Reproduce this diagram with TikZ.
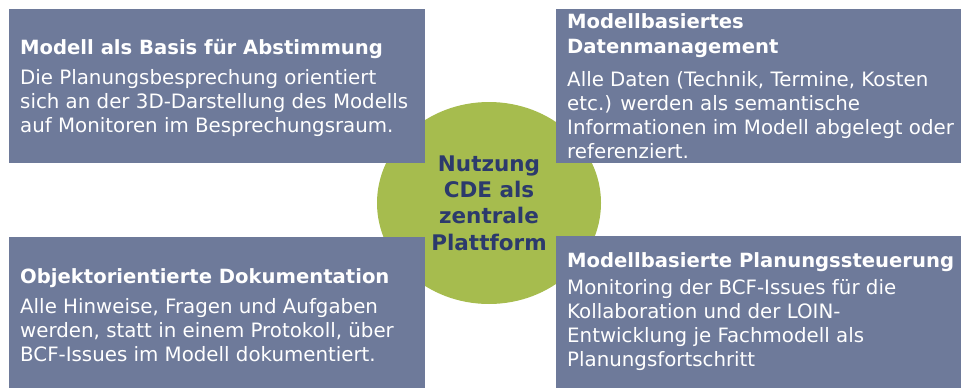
\documentclass[tikz,border=0pt]{standalone}
\usepackage{xcolor}
\usepackage{fontspec}
\setmainfont{DejaVu Sans}
\usepackage{tikz}
\usetikzlibrary{shapes, positioning}
\definecolor{feldblau}{HTML}{6E7A9A}
\definecolor{cdegruen}{HTML}{A6BC4E}
\definecolor{cdenavy}{HTML}{2C3A6C}

\begin{document}
\begin{tikzpicture}[x=1pt, y=-1pt,
    feld/.style={rectangle, fill=feldblau, anchor=north west, inner sep=0pt},
    kopf/.style={anchor=base west, inner sep=0pt, text=white, align=left,
        font=\fontsize{19.6}{25}\selectfont\bfseries},
    inhalt/.style={anchor=base west, inner sep=0pt, text=white, align=left,
        font=\fontsize{19.8}{24}\selectfont}]
    \useasboundingbox (0,0) rectangle (961,388);

    % Mitte
    \node[ellipse, fill=cdegruen, minimum width=224pt, minimum height=202pt,
        inner sep=0pt, text=cdenavy, align=center,
        font=\fontsize{21.5}{26.3}\selectfont\bfseries] (cde) at (489,203)
        {Nutzung\\CDE als\\zentrale\\Plattform};

    % Felder
    \node[feld, minimum width=416pt, minimum height=154pt] (fa) at (9,9) {};
    \node[feld, minimum width=405pt, minimum height=154pt] (fb) at (556,9) {};
    \node[feld, minimum width=416pt, minimum height=151pt] (fc) at (9,237) {};
    \node[feld, minimum width=405pt, minimum height=152pt] (fd) at (556,236) {};

    % Texte (base = Grundlinie der letzten Zeile)
    \node[kopf] (fakopf) at (20,54) {Modell als Basis für Abstimmung};
    \node[inhalt] (fatext) at (20,132) {Die Planungsbesprechung orientiert\\
        sich an der 3D-Darstellung des Modells\\
        auf Monitoren im Besprechungsraum.};

    \node[kopf] (fbkopf) at (567,53) {Modellbasiertes\\Datenmanagement};
    \node[inhalt] (fbtext) at (567,158) {Alle Daten (Technik, Termine, Kosten\\
        etc.) werden als semantische\\
        Informationen im Modell abgelegt oder\\
        referenziert.};

    \node[kopf] (fckopf) at (20,283) {Objektorientierte Dokumentation};
    \node[inhalt] (fctext) at (20,361) {Alle Hinweise, Fragen und Aufgaben\\
        werden, statt in einem Protokoll, über\\
        BCF-Issues im Modell dokumentiert.};

    \node[kopf] (fdkopf) at (567,267) {Modellbasierte Planungssteuerung};
    \node[inhalt] (fdtext) at (567,366) {Monitoring der BCF-Issues für die\\
        Kollaboration und der LOIN-\\
        Entwicklung je Fachmodell als\\
        Planungsfortschritt};
\end{tikzpicture}
\end{document}
